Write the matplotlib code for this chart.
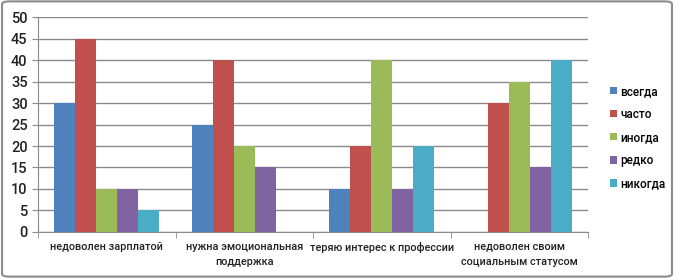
import numpy as np
import matplotlib
matplotlib.use('Agg')
from matplotlib import pyplot as plt
from matplotlib.patches import FancyBboxPatch

categories = ['недоволен зарплатой', 'нужна эмоциональная\nподдержка',
              'теряю интерес к профессии', 'недоволен своим\nсоциальным статусом']
series = ['всегда', 'часто', 'иногда', 'редко', 'никогда']
vsegda = [30, 25, 10, 0]
chasto = [45, 40, 20, 30]
inogda = [10, 20, 40, 35]
redko = [10, 15, 10, 15]
nikogda = [5, 0, 20, 40]
colors = ['#4F81BD', '#C0504D', '#9BBB59', '#8064A2', '#4BACC6']

plt.rcParams['font.family'] = ['Roboto', 'DejaVu Sans']

fig = plt.figure(figsize=(6.74, 2.78), dpi=100)
fig.patch.set_facecolor('white')
# рамка вокруг всей диаграммы
fig.patches.append(FancyBboxPatch((0.003, 0.005), 0.994, 0.99, boxstyle='round,pad=0,rounding_size=0.01',
                                  transform=fig.transFigure, fill=False, edgecolor='#8c8c8c', linewidth=1.5))

ax = fig.add_axes([0.0564, 0.1655, 0.816, 0.7733])
x = np.arange(len(categories))
w = 0.153
data = [vsegda, chasto, inogda, redko, nikogda]
for i, (name, vals) in enumerate(zip(series, data)):
    ax.bar(x + (i - 2) * w, vals, width=w, color=colors[i], label=name, zorder=3)

ax.set_xlim(-0.5, 3.5)
ax.set_ylim(0, 50)
ax.set_yticks(range(0, 51, 5))
ax.yaxis.grid(True, color='#8a8a8a', linewidth=1, zorder=0)
ax.set_xticks(x)
ax.set_xticklabels(categories, fontsize=7.8, color='#222222', linespacing=1.6, fontweight='medium')
ax.set_xticks(np.arange(-0.5, 4, 1), minor=True)
ax.tick_params(axis='x', which='major', length=0, pad=7)
ax.tick_params(axis='x', which='minor', length=4, color='#8a8a8a')
ax.tick_params(axis='y', length=4, color='#8a8a8a', labelsize=10.5, labelcolor='#222222')
for lb in ax.get_yticklabels():
    lb.set_fontweight('medium')
for s in ['top', 'right']:
    ax.spines[s].set_visible(False)
for s in ['left', 'bottom']:
    ax.spines[s].set_color('#8a8a8a')

leg = ax.legend(loc='center left', bbox_to_anchor=(1.02, 0.44), frameon=False,
                prop={'size': 8.5, 'weight': 'medium'},
                handlelength=0.6, handleheight=0.6, handletextpad=0.3, labelspacing=0.85)

plt.savefig('out.png', dpi=100)
